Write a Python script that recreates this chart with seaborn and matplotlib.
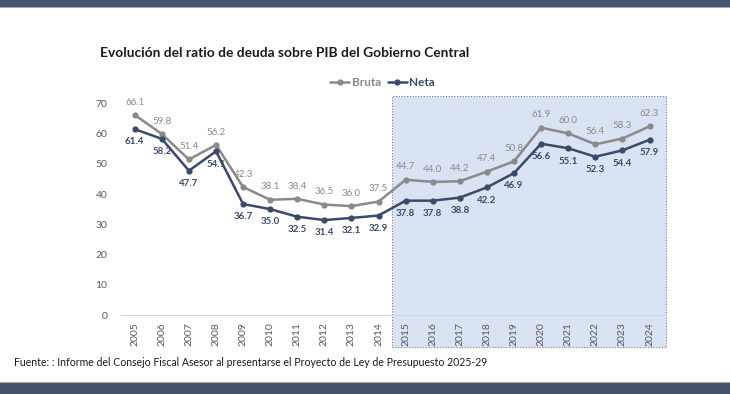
import numpy as np
import pandas as pd
import matplotlib
matplotlib.use("Agg")
import matplotlib.pyplot as plt
import matplotlib.transforms as mtransforms
from matplotlib.patches import Rectangle
import seaborn as sns

# data
years = [str(y) for y in range(2005, 2025)]
bruta = [66.1, 59.8, 51.4, 56.2, 42.3, 38.1, 38.4, 36.5, 36.0, 37.5,
         44.7, 44.0, 44.2, 47.4, 50.8, 61.9, 60.0, 56.4, 58.3, 62.3]
neta = [61.4, 58.2, 47.7, 54.1, 36.7, 35.0, 32.5, 31.4, 32.1, 32.9,
        37.8, 37.8, 38.8, 42.2, 46.9, 56.6, 55.1, 52.3, 54.4, 57.9]
yticks = [0, 10, 20, 30, 40, 50, 60, 70]

df = pd.DataFrame({"Año": years * 2,
                   "valor": bruta + neta,
                   "serie": ["Bruta"] * len(years) + ["Neta"] * len(years)})

sns.set_theme(style="white")
plt.rcParams['font.family'] = ['Lato', 'DejaVu Sans']

c_bruta = "#8a8a8a"
c_neta = "#3a4a68"
dark = "#44546a"

fig = plt.figure(figsize=(7.3, 3.94), dpi=100)
ax = fig.add_axes([0.166, 0.2, 0.746, 0.556])

# shaded projection box (2015 onward)
trans = mtransforms.blended_transform_factory(ax.transData, ax.transAxes)
ax.add_patch(Rectangle((9.5, -0.146), 10.1, 1.146, transform=trans,
                       facecolor="#dae3f3", edgecolor="#7f7f7f",
                       linestyle=(0, (1, 1.5)), linewidth=0.8,
                       clip_on=False, zorder=0))

sns.lineplot(data=df, x="Año", y="valor", hue="serie",
             palette={"Bruta": c_bruta, "Neta": c_neta},
             marker="o", markersize=4.5, markeredgewidth=0,
             linewidth=1.8, ax=ax, sort=False, zorder=3)

for i in range(len(years)):
    ax.annotate(f"{bruta[i]:.1f}", (i, bruta[i]), xytext=(0, 6),
                textcoords="offset points", ha="center", va="bottom",
                fontsize=7, color=c_bruta)
    ax.annotate(f"{neta[i]:.1f}", (i, neta[i]), xytext=(0, -6),
                textcoords="offset points", ha="center", va="top",
                fontsize=7, color=c_neta, fontweight="bold")

ax.set_xlim(-0.5, 19.6)
ax.set_ylim(0, 72.3)
ax.set_yticks(yticks)
ax.set_xlabel("")
ax.set_ylabel("")
ax.tick_params(axis="y", labelsize=7.5, labelcolor="#595959", length=0, pad=10)
ax.tick_params(axis="x", labelsize=7.5, labelcolor="#595959", length=0,
               rotation=90, pad=5)
for s in ["top", "right", "left"]:
    ax.spines[s].set_visible(False)
ax.spines["bottom"].set_color("#d9d9d9")
ax.spines["bottom"].set_linewidth(0.8)

leg = ax.legend(loc="lower center", bbox_to_anchor=(0.48, 0.99), ncol=2,
                frameon=False, fontsize=8.5, handlelength=1.6,
                handletextpad=0.2, columnspacing=0.6)
for txt, col in zip(leg.get_texts(), [c_bruta, c_neta]):
    txt.set_color(col)
    txt.set_fontweight("bold")

fig.text(0.137, 0.865, "Evolución del ratio de deuda sobre PIB del Gobierno Central",
         fontsize=9.9, fontweight="bold", color="#1a1a1a", va="center")
fig.text(0.019, 0.081,
         "Fuente: : Informe del Consejo Fiscal Asesor al presentarse el Proyecto de Ley de Presupuesto 2025-29",
         fontsize=7.6, color="#1a1a1a", va="center")

# top and bottom bands
fig.add_artist(Rectangle((0, 1 - 7 / 394), 1, 7 / 394, transform=fig.transFigure,
                         facecolor=dark, edgecolor="none"))
fig.add_artist(Rectangle((0, 1 - 8 / 394), 1, 1 / 394, transform=fig.transFigure,
                         facecolor="#a6a6a6", edgecolor="none"))
fig.add_artist(Rectangle((0, 0), 1, 11 / 394, transform=fig.transFigure,
                         facecolor=dark, edgecolor="none"))
fig.add_artist(Rectangle((0, 11 / 394), 1, 1 / 394, transform=fig.transFigure,
                         facecolor="#a6a6a6", edgecolor="none"))

fig.savefig("out.png", dpi=100)
